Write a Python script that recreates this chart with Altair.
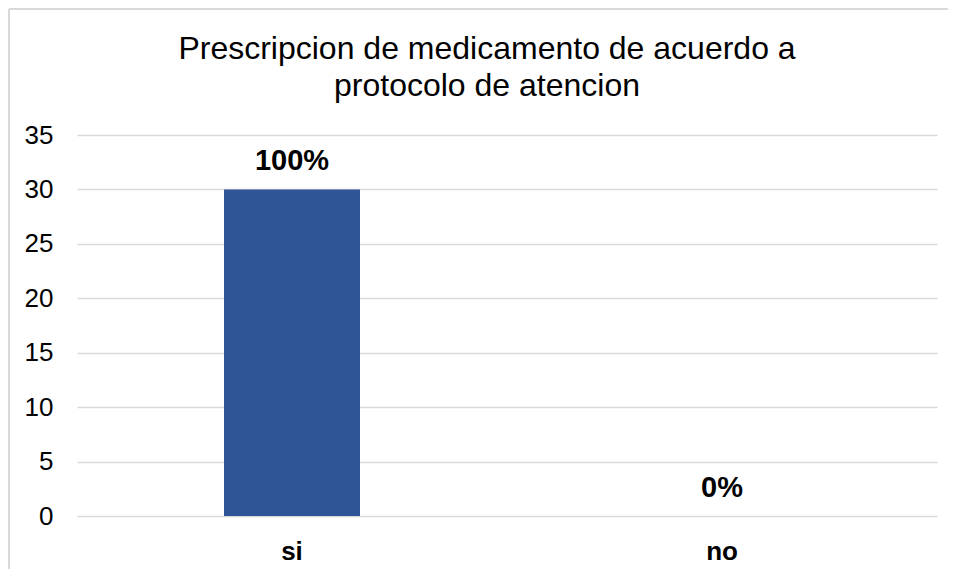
import altair as alt
import pandas as pd

categories = ["si", "no"]
values = [30, 0]
labels = ["100%", "0%"]

df = pd.DataFrame({"cat": categories, "val": values, "lab": labels})

FONT = "Liberation Sans"
GRID = "#D9D9D9"

base = alt.Chart(df)

x_enc = alt.X("cat:N", sort=categories, title=None,
              scale=alt.Scale(paddingInner=0, paddingOuter=0),
              axis=alt.Axis(labelAngle=0, labelFont=FONT, labelFontSize=26,
                            labelFontWeight="bold", labelColor="#000000",
                            labelPadding=22, ticks=False, domain=False))
y_enc = alt.Y("val:Q", title=None,
              scale=alt.Scale(domain=[0, 35], nice=False),
              axis=alt.Axis(values=[0, 5, 10, 15, 20, 25, 30, 35],
                            labelFont=FONT, labelFontSize=26, labelColor="#000000",
                            labelPadding=24, ticks=False, domain=False,
                            grid=True, gridColor=GRID, gridWidth=1.5))

bars = base.mark_bar(size=136, color="#2F5597").encode(x=x_enc, y=y_enc)

text = base.mark_text(font=FONT, fontSize=29, fontWeight="bold", color="#000000",
                      baseline="alphabetic", dy=-19).encode(
    x=alt.X("cat:N", sort=categories), y="val:Q", text="lab:N")

border_left = base.mark_rule(color=GRID, strokeWidth=2, clip=False).encode(
    x=alt.value(-68), y=alt.value(-126), y2=alt.value(460))
border_top = base.mark_rule(color=GRID, strokeWidth=2, clip=False).encode(
    x=alt.value(-68), x2=alt.value(880), y=alt.value(-126))

chart = alt.layer(bars, text, border_left, border_top).properties(
    width=860, height=381,
    background="white",
    title=alt.TitleParams(
        text=["Prescripcion de medicamento de acuerdo a", "protocolo de atencion"],
        font=FONT, fontSize=32, fontWeight="normal", color="#000000",
        anchor="middle", dx=-20, dy=95, offset=0, lineHeight=37),
    autosize=alt.AutoSizeParams(type="none"),
    padding={"left": 69, "top": 127, "right": 11, "bottom": 53},
).configure_view(stroke=None)

chart.save("out.html", embed_options={"renderer": "svg", "actions": False})
